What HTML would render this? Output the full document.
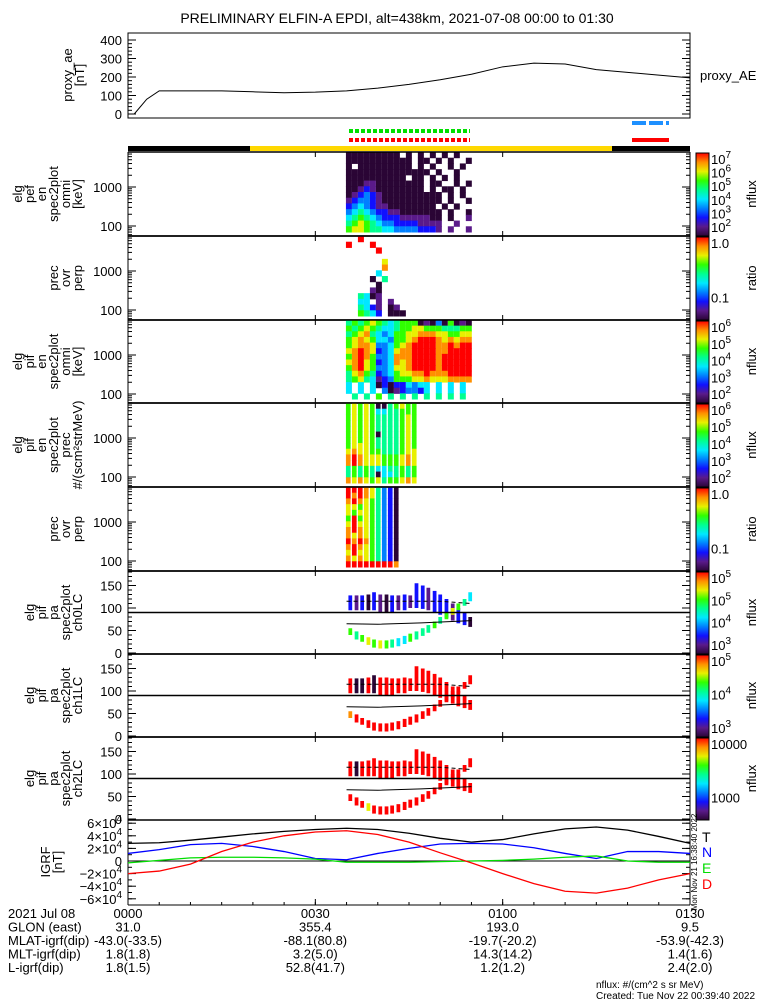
<!DOCTYPE html>
<html><head><meta charset="utf-8"><style>
html,body{margin:0;padding:0;background:#fff}
svg{display:block}
text{font-family:"Liberation Sans",sans-serif;fill:#000}
</style></head><body>
<svg id="c" width="775" height="1000" viewBox="0 0 775 1000" xmlns="http://www.w3.org/2000/svg">
<text x="397" y="23" font-size="14" text-anchor="middle">PRELIMINARY ELFIN-A EPDI, alt=438km, 2021-07-08 00:00 to 01:30</text>
</svg>
<script>
// ---------- data ----------
const aeTimes=[1,3,5,10,15,20,25,30,35,40,45,50,55,60,65,70,75,80,85,90];
const aeValues=[0,80,125,125,125,120,115,118,125,140,160,185,215,255,275,270,240,225,210,195];
const igrfTimes=[0,5,10,15,20,25,30,35,40,45,50,55,60,65,70,75,80,85,90];
const igrfT=[2.8,2.9,3.3,3.8,4.3,4.7,5.0,5.2,5.0,4.4,3.6,3.0,3.4,4.3,5.1,5.4,4.9,3.9,2.8];
const igrfN=[1.2,1.8,2.6,2.8,2.3,1.5,0.4,0.2,1.2,2.0,2.7,2.8,2.7,2.1,1.2,0.4,1.5,1.5,1.2];
const igrfE=[-0.3,0.1,0.5,0.6,0.6,0.5,0.3,-0.2,-0.2,-0.2,-0.1,0.0,0.1,0.3,0.6,0.8,0.0,-0.2,-0.2];
const igrfD=[-2.0,-1.6,-0.5,1.5,3.0,4.0,4.6,4.8,4.2,3.0,1.3,-0.3,-2.0,-3.6,-4.8,-5.1,-4.3,-3.0,-2.0];
const xTickLabels=['0000','0030','0100','0130'];
const xTickTimes=[0,30,60,90];
const glon=['31.0','355.4','193.0','9.5'];
const mlat=['-43.0(-33.5)','-88.1(80.8)','-19.7(-20.2)','-53.9(-42.3)'];
const mlt=['1.8(1.8)','3.2(5.0)','14.3(14.2)','1.4(1.6)'];
const lval=['1.8(1.5)','52.8(41.7)','1.2(1.2)','2.4(2.0)'];
// spectrogram cells (digit = colour level, '.' = no data); column start time, minutes
const spec1Start=34.9, spec1=[
"000000000.0.0.0.0.0..","00000000000.00.0.0..0","0.000000000.0.0..0.0.","00000000000000.0..0..",
"0000000000.00.0.0.0..","0001100000000.00..0.0","0012100000000.0.00.0.","0123210000000000.0.0.",
"1233210000000000.0..0","234321100000000.0.0..","3454322110000000.0..0","4565432221111100.0..1",
"5676543322221111..1..","6776554433332221.1..1"];
const spec2=[
"..9..........","9...9........",".....9.......",".............","......7......","......8......",".....4.......",
"....0.5......",".....0.......","....10.......","..5401.......","..44.1.1.....","..5421.01....","..6542.000..."];
const spec3=[
"565676545666010306010","656765445667766655566","567854346677888776677","678764436678999878788",
"678873346789999889899","789872347889999889999","689863348889999899999","789762348789999899999",
"689763347789999899999","578652346778898889999","567541236667787778888","4.4.4020224344.4.4.4.",
"4.4.4.30123324.4.4.4.",".5.5.6.5.5.5.5.5.5.5."];
const spec4=[
"676760056766","676764455666","676765555676","676765555676","676765555676","676760555676","676765555676",
"677765555676","787766555677","898777666787","898777666787","565654455656","565650445656","878767566787"];
const spec5=[
"999875320.","989875320.","898765320.","776765320.","767765320.","696765320.","797765320.",
"898765320.","878765320.","989865320.","898765320.","797765320.","878765320.","999999998."];
// pitch-angle columns (deg)
const paTimes=[35.3,36.3,37.2,38.2,39.1,40.1,41.1,42.0,43.0,44.0,44.9,45.9,46.9,47.8,48.8,49.7,50.7,51.7,52.6,53.6,54.5];
const upLo=[95,95,95,95,95,90,90,90,95,95,100,100,98,95,90,85,78,72,66,62,58];
const upHi=[128,128,128,130,135,130,130,128,128,130,128,155,150,145,138,130,120,110,100,90,80];
const loLo=[40,30,25,18,12,10,10,12,15,20,25,30,38,45,55,65,75,85,95,105,115];
const loHi=[55,48,40,35,30,28,28,30,33,38,43,48,55,62,70,80,90,100,110,120,135];
const ch0Up="212021021212212221220";
const ch0Lo="656767654465556567654";
const ch1Up="900909999999999999999";
const ch1Lo="899999999999999999999";
const ch2Up="909999999999999999999";
const ch2Lo="999799999999999999999";

// ---------- helpers ----------
const svg=document.getElementById('c');
const NS='http://www.w3.org/2000/svg';
const X0=128,X1=690;
const xs=t=>X0+t*(X1-X0)/90;
const cmap=['#2a0535','#5a1a8a','#1010ff','#0080ff','#00e8ff','#00ff90','#30ff00','#e8f000','#ff9000','#ff0000'];
function mk(tag,attrs,parent){const e=document.createElementNS(NS,tag);for(const k in attrs)e.setAttribute(k,attrs[k]);(parent||svg).appendChild(e);return e;}
function txt(x,y,s,size,anchor,parent){const e=mk('text',{x:x,y:y,'font-size':size||13,'text-anchor':anchor||'start'},parent);e.textContent=s;return e;}

// ---------- proxy AE ----------
const aeTop=33,aeBot=118;
const aeY=v=>114-v*0.185;
const aeG=mk('g',{});


mk('rect',{x:X0,y:aeTop,width:X1-X0,height:aeBot-aeTop,fill:'none',stroke:'#000','stroke-width':1},aeG);
[0,100,200,300,400].forEach(v=>{const t=txt(122,aeY(v)+5,String(v),13,'end',aeG);mk('line',{x1:X0,x2:X0+8,y1:aeY(v),y2:aeY(v),stroke:'#000'},aeG);mk('line',{x1:X1,x2:X1-8,y1:aeY(v),y2:aeY(v),stroke:'#000'},aeG);});
for(let v=0;v<=400;v+=20){mk('line',{x1:X0,x2:X0+4,y1:aeY(v),y2:aeY(v),stroke:'#000'},aeG);mk('line',{x1:X1,x2:X1-4,y1:aeY(v),y2:aeY(v),stroke:'#000'},aeG);}
const aeLine=mk('polyline',{points:aeTimes.map((t,i)=>xs(t)+','+aeY(aeValues[i])).join(' '),fill:'none',stroke:'#000','stroke-width':1},aeG);


const aeLab=txt(700,80,'proxy_AE',13,'start',aeG);



function rotLabel(lines,cy,lastX,name){
  const sp=12, x0=lastX-(lines.length-1)*sp;
  const g=mk('g',{});
  
  
  lines.forEach((s,i)=>{const x=x0+i*sp+4;const t=mk('text',{x:0,y:0,'font-size':13,'text-anchor':'middle',transform:'translate('+x+','+cy+') rotate(-90)'},g);t.textContent=s;});
}
rotLabel(['proxy_ae','[nT]'],75,80,'ae-y-axis-title');

// ---------- status bars ----------
function seg(x1,x2,y,h,c,dash,name){const r=mk('line',{x1:x1,x2:x2,y1:y,y2:y,stroke:c,'stroke-width':h,'stroke-dasharray':dash||'none'});}
seg(349,470,131,4,'#00e000','4,2','science-zone-green-markers');
seg(349,470,140,4,'#ff0000','4,2','science-zone-red-markers');
seg(632,669,123,4,'#1e90ff','14,3','blue-marker');
seg(632,669,140,4,'#ff0000','','red-marker');
seg(128,250,148.5,5,'#000','','orbit-bar-dark-1');
seg(250,612,148.5,5,'#ffd800','','orbit-bar-sunlit');
seg(612,690,148.5,5,'#000','','orbit-bar-dark-2');

// ---------- panels ----------
const panels=[
 {top:152,bot:236,type:'log',lab:['elg','pef','en','spec2plot','omni','[keV]'],cb:['10^7','10^6','10^5','10^4','10^3','10^2'],cbt:'nflux',name:'pef-omni-spectrogram'},
 {top:236,bot:320,type:'log',lab:['prec','ovr','perp'],cb:['1.0','0.1'],cbt:'ratio',name:'pef-prec-ratio-spectrogram'},
 {top:320,bot:403,type:'log',lab:['elg','pif','en','spec2plot','omni','[keV]'],cb:['10^6','10^5','10^4','10^3','10^2'],cbt:'nflux',name:'pif-omni-spectrogram'},
 {top:403,bot:487,type:'log',lab:['elg','pif','en','spec2plot','prec','#/(scm\u00b2strMeV)'],cb:['10^6','10^5','10^4','10^3','10^2'],cbt:'nflux',name:'pif-prec-spectrogram'},
 {top:487,bot:571,type:'log',lab:['prec','ovr','perp'],cb:['1.0','0.1'],cbt:'ratio',name:'pif-prec-ratio-spectrogram'},
 {top:571,bot:654,type:'pa',lab:['elg','pif','pa','spec2plot','ch0LC'],cb:['10^5','10^5','10^4','10^3'],cbt:'nflux',name:'pa-ch0-spectrogram'},
 {top:654,bot:737,type:'pa',lab:['elg','pif','pa','spec2plot','ch1LC'],cb:['10^5','10^4','10^3'],cbt:'nflux',name:'pa-ch1-spectrogram'},
 {top:737,bot:820,type:'pa',lab:['elg','pif','pa','spec2plot','ch2LC'],cb:['10000','1000'],cbt:'nflux',name:'pa-ch2-spectrogram'}
];
const cbGrad=mk('linearGradient',{id:'rb',x1:0,y1:1,x2:0,y2:0},mk('defs',{}));
cmap.forEach((c,i)=>mk('stop',{offset:(i/9).toFixed(3),'stop-color':c},cbGrad));
const specs=[spec1,spec2,spec3,spec4,spec5];
const paUp=[ch0Up,ch1Up,ch2Up], paLo=[ch0Lo,ch1Lo,ch2Lo];

panels.forEach((p,pi)=>{
  const g=mk('g',{});
  
  
  const h=p.bot-p.top;
  if(p.type==='log'){
    const rows=specs[pi], rh=(h-4)/rows.length;
    const wfrac=(pi===3||pi===4)?0.75:0.96;
    rows.forEach((r,ri)=>{for(let ci=0;ci<r.length;ci++){const ch=r[ci];if(ch==='.')continue;
      const t0=spec1Start+ci*0.96;
      const cell=mk('rect',{x:xs(t0),y:p.top+ri*rh,width:xs(t0+wfrac)-xs(t0),height:rh+0.5,fill:cmap[+ch]},g);
      
      }});
  } else {
    const k=pi-5, paY=v=>p.bot-1-v*(h-2)/180;
    paTimes.forEach((t,i)=>{
      const w=xs(t+0.6)-xs(t);
      const cu=paUp[k][i]||'2', cl=paLo[k][i]||'6';
      const u=mk('rect',{x:xs(t),y:paY(upHi[i]),width:w,height:paY(upLo[i])-paY(upHi[i]),fill:cmap[+cu]},g);
      
      
      const l=mk('rect',{x:xs(t),y:paY(loHi[i]),width:w,height:paY(loLo[i])-paY(loHi[i]),fill:cmap[+cl]},g);
      
      
    });
    mk('line',{x1:X0,x2:X1,y1:paY(90),y2:paY(90),stroke:'#000','stroke-width':1.5},g);
    mk('polyline',{points:[[35,115],[50,115],[52,113],[55,110]].map(q=>xs(q[0])+','+paY(q[1])).join(' '),fill:'none',stroke:'#000','stroke-dasharray':'4,3'},g);
    mk('polyline',{points:[[35,65],[40,64],[47,67],[55,72]].map(q=>xs(q[0])+','+paY(q[1])).join(' '),fill:'none',stroke:'#000'},g);
    [0,50,100,150].forEach(v=>{txt(122,paY(v)+5,String(v),13,'end',g);mk('line',{x1:X0,x2:X0+8,y1:paY(v),y2:paY(v),stroke:'#000'},g);mk('line',{x1:X1,x2:X1-8,y1:paY(v),y2:paY(v),stroke:'#000'},g);});
    for(let v=0;v<=180;v+=10){mk('line',{x1:X0,x2:X0+4,y1:paY(v),y2:paY(v),stroke:'#000'},g);mk('line',{x1:X1,x2:X1-4,y1:paY(v),y2:paY(v),stroke:'#000'},g);}
  }
  if(p.type==='log'){
    const y1000=p.top+35, dec=39;
    const ly=e=>y1000-(e-3)*dec;
    [['1000',3],['100',2]].forEach(q=>txt(122,ly(q[1])+5,q[0],13,'end',g));
    for(let d=1;d<=3;d++)for(let m=1;m<10;m++){const y=ly(d+Math.log10(m));if(y<p.top||y>p.bot)continue;const L=m===1?8:4;
      mk('line',{x1:X0,x2:X0+L,y1:y,y2:y,stroke:'#000'},g);mk('line',{x1:X1,x2:X1-L,y1:y,y2:y,stroke:'#000'},g);}
  }
  mk('line',{x1:X0,x2:X1,y1:p.top,y2:p.top,stroke:'#000','stroke-width':1.5},g);
  mk('line',{x1:X0,x2:X1,y1:p.bot,y2:p.bot,stroke:'#000','stroke-width':1.5},g);
  mk('line',{x1:X0,x2:X0,y1:p.top,y2:p.bot,stroke:'#000'},g);
  mk('line',{x1:X1,x2:X1,y1:p.top,y2:p.bot,stroke:'#000'},g);
  xTickTimes.forEach(t=>{mk('line',{x1:xs(t),x2:xs(t),y1:p.bot,y2:p.bot-5,stroke:'#000'},g);mk('line',{x1:xs(t),x2:xs(t),y1:p.top,y2:p.top+5,stroke:'#000'},g);});
  rotLabel(p.lab,(p.top+p.bot)/2,78,p.name+'-y-title');
  const cb=mk('rect',{x:696,y:p.top+1,width:13,height:h-1,fill:'url(#rb)',stroke:'#000','stroke-width':1},g);
  
  
  const n=p.cb.length;
  p.cb.forEach((s,i)=>{
    const y=p.top+12+i*(h-16)/Math.max(n-1,1)*(n===2?0.8:1);
    const t=mk('text',{x:711,y:y,'font-size':13},g);
    if(s.startsWith('10^')){t.textContent='10';const sp=mk('tspan',{dy:-6,'font-size':10},t);sp.textContent=s.slice(3);}
    else t.textContent=s;
  });
  const tt=mk('text',{x:0,y:0,'font-size':13,'text-anchor':'middle',transform:'translate(756,'+((p.top+p.bot)/2)+') rotate(-90)'},g);
  tt.textContent=p.cbt;
});

// ---------- IGRF ----------
const iTop=820,iBot=905;
const iY=v=>861-v*6.3;
const ig=mk('g',{});


mk('line',{x1:X0,x2:X1,y1:iBot,y2:iBot,stroke:'#000'},ig);
mk('line',{x1:X0,x2:X0,y1:iTop,y2:iBot,stroke:'#000'},ig);
mk('line',{x1:X1,x2:X1,y1:iTop,y2:iBot,stroke:'#000'},ig);
mk('line',{x1:X0,x2:X1,y1:iY(0),y2:iY(0),stroke:'#000'},ig);
[6,4,2,0,-2,-4,-6].forEach(v=>{
  const y=iY(v);
  mk('line',{x1:X0,x2:X0+8,y1:y,y2:y,stroke:'#000'},ig);mk('line',{x1:X1,x2:X1-8,y1:y,y2:y,stroke:'#000'},ig);
  const t=mk('text',{x:122,y:y+5,'font-size':13,'text-anchor':'end'},ig);
  if(v===0){t.textContent='0';}else{t.textContent=(v<0?'\u2212':'')+Math.abs(v)+'\u00d710';const s=mk('tspan',{dy:-6,'font-size':10},t);s.textContent='4';}
});
for(let v=-6;v<=6;v+=1){mk('line',{x1:X0,x2:X0+4,y1:iY(v),y2:iY(v),stroke:'#000'},ig);mk('line',{x1:X1,x2:X1-4,y1:iY(v),y2:iY(v),stroke:'#000'},ig);}
xTickTimes.forEach(t=>mk('line',{x1:xs(t),x2:xs(t),y1:iBot,y2:iBot-6,stroke:'#000'},ig));
for(let t=0;t<=90;t+=5)mk('line',{x1:xs(t),x2:xs(t),y1:iBot,y2:iBot-3,stroke:'#000'},ig);
[[igrfT,'#000','igrf-total-line'],[igrfN,'#0000ff','igrf-north-line'],[igrfE,'#00dd00','igrf-east-line'],[igrfD,'#ff0000','igrf-down-line']].forEach(s=>{
  const l=mk('polyline',{points:igrfTimes.map((t,i)=>xs(t)+','+iY(s[0][i])).join(' '),fill:'none',stroke:s[1],'stroke-width':1.3},ig);
  
  
});
rotLabel(['IGRF','[nT]'],862,58,'igrf-y-axis-title');
[['T','#000',842],['N','#0000ff',857],['E','#00dd00',873],['D','#ff0000',889]].forEach(q=>{const t=txt(702,q[2],q[0],14,'start',ig);t.setAttribute('fill',q[1]);t.style.fill=q[1];});
const stamp=mk('text',{x:0,y:0,'font-size':8,'text-anchor':'middle',transform:'translate(697,862) rotate(-90)'},ig);
stamp.textContent='Mon Nov 21 16:38:40 2022';

// ---------- bottom annotations ----------
const ann=mk('g',{});


const rowNames=['2021 Jul 08','GLON (east)','MLAT-igrf(dip)','MLT-igrf(dip)','L-igrf(dip)'];
const rowVals=[xTickLabels,glon,mlat,mlt,lval];
rowNames.forEach((n,i)=>{const y=918+i*13.5;txt(8,y,n,13,'start',ann);
  rowVals[i].forEach((v,j)=>txt(xs(xTickTimes[j]),y,v,13,'middle',ann));});
txt(596,988,'nflux: #/(cm^2 s sr MeV)',10,'start',ann);
txt(596,999,'Created: Tue Nov 22 00:39:40 2022',10,'start',ann);
</script>
</body></html>
